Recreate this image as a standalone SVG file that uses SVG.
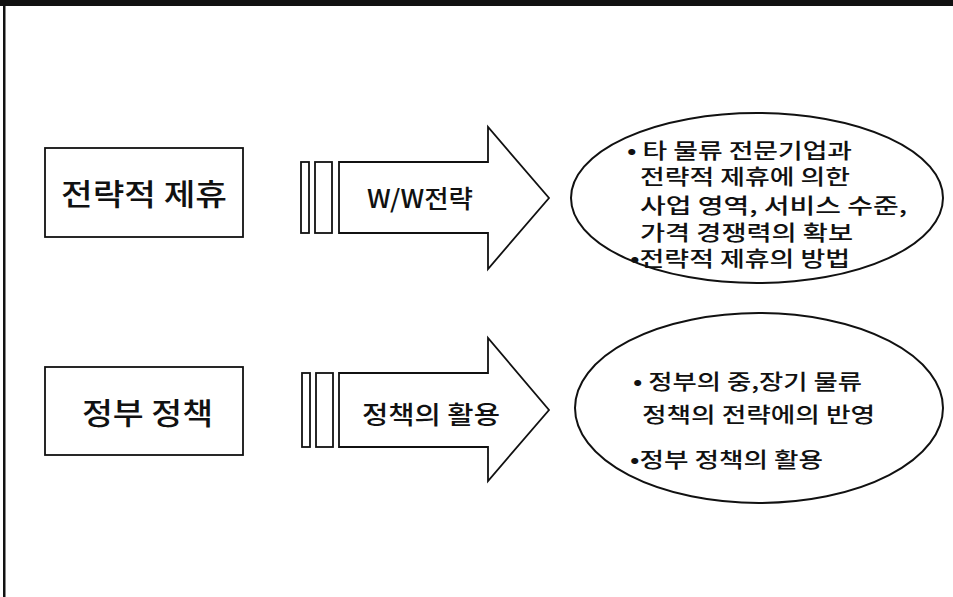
<svg xmlns="http://www.w3.org/2000/svg" width="953" height="597" viewBox="0 0 953 597">
<style>
  .ln { fill: #ffffff; stroke: #111111; stroke-width: 1.8; }
  .el { fill: #ffffff; stroke: #111111; stroke-width: 2; }
  .t { font-family: "Noto Sans CJK KR", "Liberation Sans", sans-serif; font-weight: 500; fill: #111111; dominant-baseline: central; }
  .big { font-size: 30px; }
  .mid { font-size: 25px; }
  .sm { font-size: 21px; }
</style>
<rect x="0" y="0" width="953" height="597" fill="#ffffff"/>
<g id="frame">
  <rect x="0" y="0" width="953" height="6" fill="#111111"/>
  <rect x="3" y="0" width="2.5" height="597" fill="#111111"/>
</g>
<g id="box1">
  <rect class="ln" x="45" y="148" width="198" height="89"/>
  <text class="t big" x="61" y="192" textLength="166" lengthAdjust="spacingAndGlyphs">전략적 제휴</text>
</g>
<g id="box2">
  <rect class="ln" x="45" y="367" width="198" height="88"/>
  <text class="t big" x="82" y="411" textLength="131" lengthAdjust="spacingAndGlyphs">정부 정책</text>
</g>
<g id="connectors">
  <g id="arrow1">
    <rect class="ln" x="301" y="162" width="8" height="71"/>
    <rect class="ln" x="315" y="162" width="17" height="71"/>
    <polygon class="ln" points="339,162 488,162 488,127 549,198 488,269 488,233 339,233"/>
    <text class="t mid" x="367" y="197" textLength="106" lengthAdjust="spacingAndGlyphs">W/W전략</text>
  </g>
  <g id="arrow2">
    <rect class="ln" x="302" y="373" width="8" height="74"/>
    <rect class="ln" x="316" y="373" width="17" height="74"/>
    <polygon class="ln" points="339,373 488,373 488,338 549,410 488,481 488,447 339,447"/>
    <text class="t mid" x="362" y="413" textLength="138" lengthAdjust="spacingAndGlyphs">정책의 활용</text>
  </g>
</g>
<g id="ellipse1">
  <ellipse class="el" cx="757" cy="198" rx="186" ry="85"/>
  <text class="t sm" x="627" y="149" textLength="225" lengthAdjust="spacingAndGlyphs">• 타 물류 전문기업과</text>
  <text class="t sm" x="640" y="175" textLength="210" lengthAdjust="spacingAndGlyphs">전략적 제휴에 의한</text>
  <text class="t sm" x="640" y="204" textLength="267" lengthAdjust="spacingAndGlyphs">사업 영역, 서비스 수준,</text>
  <text class="t sm" x="640" y="231" textLength="213" lengthAdjust="spacingAndGlyphs">가격 경쟁력의 확보</text>
  <text class="t sm" x="630" y="257" textLength="220" lengthAdjust="spacingAndGlyphs">•전략적 제휴의 방법</text>
</g>
<g id="ellipse2">
  <ellipse class="el" cx="759" cy="408" rx="184" ry="95"/>
  <text class="t sm" x="633" y="380" textLength="229" lengthAdjust="spacingAndGlyphs">• 정부의 중,장기 물류</text>
  <text class="t sm" x="642" y="413" textLength="233" lengthAdjust="spacingAndGlyphs">정책의 전략에의 반영</text>
  <text class="t sm" x="630" y="458" textLength="193" lengthAdjust="spacingAndGlyphs">•정부 정책의 활용</text>
</g>
</svg>
